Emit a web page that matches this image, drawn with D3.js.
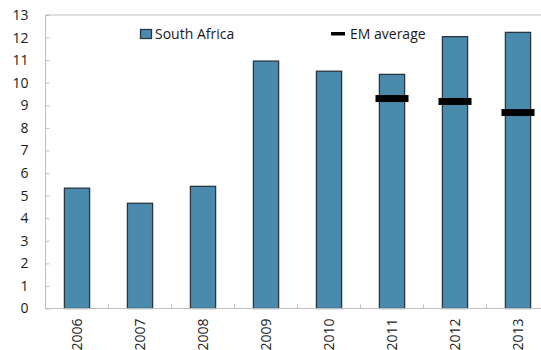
<!DOCTYPE html>
<html><head><meta charset="utf-8">
<script src="https://cdn.jsdelivr.net/npm/d3@7"></script>
<style>
html,body{margin:0;padding:0;background:#fff;overflow:hidden}
svg{display:block;font-family:"Open Sans","Noto Sans",sans-serif}
</style></head>
<body><svg id="c" width="541" height="350"></svg>
<script>
const years = ["2006","2007","2008","2009","2010","2011","2012","2013"];
const southAfrica = [5.33, 4.66, 5.41, 10.96, 10.51, 10.37, 12.04, 12.23];
const emAverage = [null, null, null, null, null, 9.30, 9.17, 8.68];
const yTicks = [0,1,2,3,4,5,6,7,8,9,10,11,12,13];

const svg = d3.select("#c");
const mLeft = 45.5, mTop = 15, mBottom = 308.5;
const step = 63;
const x = d3.scaleBand().domain(years).range([mLeft, mLeft + step * years.length]).padding(0);
const y = d3.scaleLinear().domain([0, 13]).range([mBottom, mTop]);
const bw = x.bandwidth() * 0.4;

// top border
svg.append("line").attr("x1", mLeft).attr("x2", 541).attr("y1", mTop).attr("y2", mTop)
  .attr("stroke", "#bfbfbf").attr("stroke-width", 1);

// bars
svg.append("g").selectAll("rect").data(years).join("rect")
  .attr("x", (d) => x(d) + x.bandwidth()/2 - bw/2)
  .attr("y", (d,i) => y(southAfrica[i]))
  .attr("width", bw)
  .attr("height", (d,i) => y(0) - y(southAfrica[i]))
  .attr("fill", "#4a8aad").attr("stroke", "#2a3640").attr("stroke-width", 1.3);

// EM markers
svg.append("g").selectAll("rect").data(years.filter((d,i) => emAverage[i] != null)).join("rect")
  .attr("x", (d) => x(d) + x.bandwidth()/2 - 16.5)
  .attr("y", (d) => y(emAverage[years.indexOf(d)]) - 3.5)
  .attr("width", 33).attr("height", 7).attr("fill", "#000");

// y axis
const ya = svg.append("g").attr("transform", `translate(${mLeft},0)`)
  .call(d3.axisLeft(y).tickValues(yTicks).tickSize(-4).tickPadding(17).tickFormat(d3.format("d")));
ya.select(".domain").attr("stroke", "#bfbfbf").attr("d", `M0,${mTop}V${mBottom}`);
ya.selectAll(".tick line").attr("stroke", "#bfbfbf");
ya.selectAll("text").attr("font-size", 14).attr("fill", "#1a1a1a").attr("font-family", "'Open Sans','Noto Sans',sans-serif");

// x axis
const xa = svg.append("g").attr("transform", `translate(0,${mBottom})`)
  .call(d3.axisBottom(x).tickSize(0).tickPadding(0));
xa.select(".domain").attr("stroke", "#bfbfbf").attr("d", `M${mLeft},0H541`);
xa.selectAll("text").attr("font-size", 14).attr("fill", "#1a1a1a")
  .attr("font-family", "'Open Sans','Noto Sans',sans-serif")
  .attr("transform", "translate(0,10) rotate(-90)").attr("text-anchor", "end").attr("dy", "0.35em").attr("x", 0).attr("y", 0);
// category separator ticks
svg.append("g").selectAll("line").data(years.slice(1)).join("line")
  .attr("x1", (d) => x(d)).attr("x2", (d) => x(d))
  .attr("y1", mBottom).attr("y2", mBottom - 4)
  .attr("stroke", "#bfbfbf");

// legend
const lg = svg.append("g").attr("font-size", 14).attr("fill", "#1a1a1a");
lg.append("rect").attr("x", 140.5).attr("y", 29.5).attr("width", 11).attr("height", 9)
  .attr("fill", "#4a8aad").attr("stroke", "#2a3640").attr("stroke-width", 1.3);
lg.append("text").attr("x", 155).attr("y", 39).text("South Africa");
lg.append("rect").attr("x", 331).attr("y", 32).attr("width", 14).attr("height", 3.5).attr("fill", "#000");
lg.append("text").attr("x", 350).attr("y", 39).text("EM average");
</script></body></html>
